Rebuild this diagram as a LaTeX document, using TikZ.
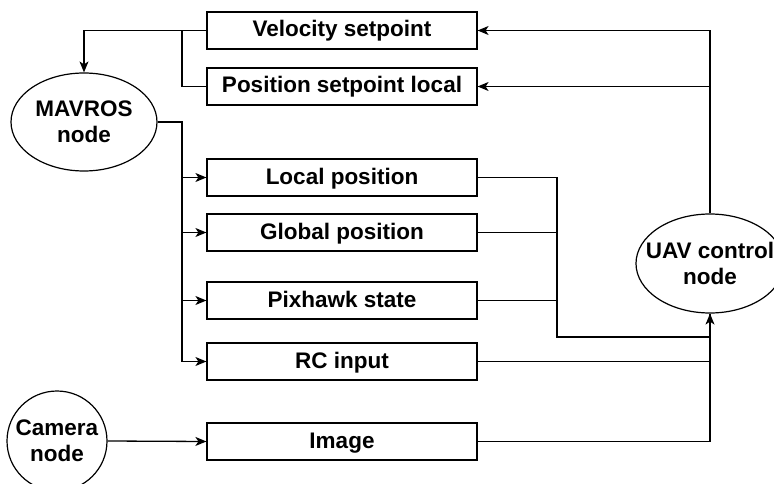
\documentclass[tikz,border=0pt]{standalone}
\usepackage{fontspec}
\setmainfont{Liberation Sans}
\usetikzlibrary{shapes.geometric,arrows.meta}
\begin{document}
\begin{tikzpicture}[x=1pt,y=-1pt,
  every node/.style={font=\fontsize{22.5}{26}\selectfont\bfseries},
  box/.style={draw,line width=1.2pt,minimum width=270pt,minimum height=37pt,inner sep=0pt,text height=17.5pt,text depth=4.5pt},
  oval/.style={draw,ellipse,line width=1.2pt,align=center,inner sep=0pt},
  wire/.style={line width=1.3pt},
  arr/.style={wire,-{Stealth[length=11pt,width=9pt,inset=3pt]}}]
\useasboundingbox (0,0) rectangle (774,484);
\node[box] (vel) at (342,30.5) {Velocity setpoint};
\node[box] (pos) at (342,86.5) {Position setpoint local};
\node[box] (loc) at (342,177.5) {Local position};
\node[box] (glob) at (342,232.5) {Global position};
\node[box] (pix) at (342,300.5) {Pixhawk state};
\node[box] (rc) at (342,361.5) {RC input};
\node[box] (img) at (342,441.5) {Image};
\node[oval,minimum width=146pt,minimum height=98pt] (mav) at (84,122) {MAVROS\\node};
\node[oval,inner xsep=-16pt,minimum width=148pt,minimum height=99pt] (uav) at (710,263.5) {UAV control\\node};
\node[oval,inner xsep=-9pt,minimum width=100pt,minimum height=100pt] (cam) at (57,441) {Camera\\node};
\coordinate (bus) at (182,0);
\coordinate (cx) at (557,0);
\coordinate (jy) at (0,337);
% MAVROS outputs
\draw[arr] (mav.east) -| (bus |- rc.west) -- (rc.west);
\draw[arr] (bus |- loc.west) -- (loc.west);
\draw[arr] (bus |- glob.west) -- (glob.west);
\draw[arr] (bus |- pix.west) -- (pix.west);
% setpoints to MAVROS
\draw[arr] (vel.west) -| (mav.north);
\draw[wire] (pos.west) -| (bus |- vel.west);
% UAV control to setpoints
\draw[arr] (uav.north) |- (vel.east);
\draw[arr] (uav.north |- pos.east) -- (pos.east);
% inputs to UAV control
\draw[arr] (loc.east) -| (cx |- jy) -| (uav.south);
\draw[wire] (glob.east) -- (cx |- glob.east);
\draw[wire] (pix.east) -- (cx |- pix.east);
\draw[wire] (rc.east) -| (uav.south);
\draw[wire] (img.east) -| (uav.south);
\draw[arr] (cam.east) -- (img.west);
\end{tikzpicture}
\end{document}
